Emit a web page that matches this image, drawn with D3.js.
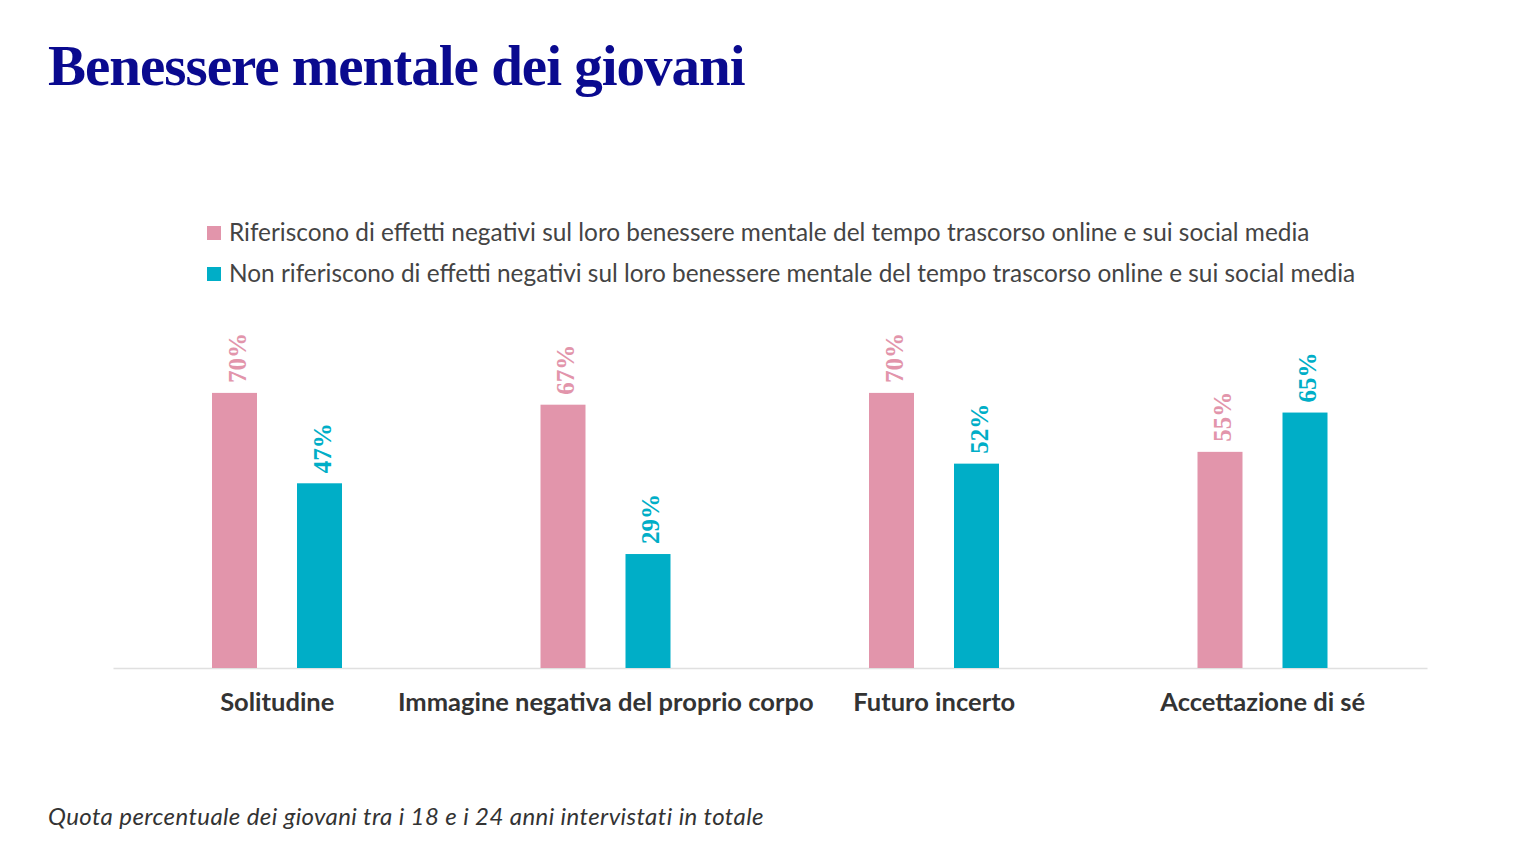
<!DOCTYPE html>
<html><head><meta charset="utf-8">
<script src="https://cdn.jsdelivr.net/npm/d3@7"></script>
<style>
html,body{margin:0;padding:0;background:#fff;}
svg{display:block;}
</style></head>
<body>
<svg id="chart" width="1536" height="864"></svg>
<script>
const categories = ["Solitudine", "Immagine negativa del proprio corpo", "Futuro incerto", "Accettazione di sé"];
const seriesNames = [
  "Riferiscono di effetti negativi sul loro benessere mentale del tempo trascorso online e sui social media",
  "Non riferiscono di effetti negativi sul loro benessere mentale del tempo trascorso online e sui social media"
];
const negativeValues = [70, 67, 70, 55];
const nonNegativeValues = [47, 29, 52, 65];
const colors = ["#e295ab", "#00aec7"];

const svg = d3.select("#chart");
const sans = "'Lato','Source Sans Pro','Open Sans',sans-serif";

svg.append("text").attr("x", 48).attr("y", 85)
  .attr("font-family", "'Liberation Serif',serif").attr("font-weight", 700)
  .attr("font-size", 57).attr("letter-spacing", -1).attr("fill", "#0a0a8f")
  .text("Benessere mentale dei giovani");

// legend
const legend = svg.append("g");
seriesNames.forEach((name, i) => {
  const y = 233 + i * 41;
  legend.append("rect").attr("x", 207).attr("y", y - 7).attr("width", 14).attr("height", 14).attr("fill", colors[i]);
  legend.append("text").attr("x", 229).attr("y", y + 8)
    .attr("font-family", sans).attr("font-size", 24.4).attr("fill", "#444").text(name);
});

const data = categories.map((c, i) => ({cat: c, vals: [negativeValues[i], nonNegativeValues[i]]}));

const x0 = d3.scaleBand().domain(categories).range([113, 1427]).padding(0);
const x1 = d3.scaleBand().domain([0, 1]).range([99, 229]).paddingInner(40 / 85).paddingOuter(0);
const y = d3.scaleLinear().domain([0, 100]).range([668, 275]);

// baseline axis
const xAxis = svg.append("g").attr("transform", `translate(0,${y(0)})`)
  .call(d3.axisBottom(x0).tickSize(0).tickPadding(0));
xAxis.select(".domain").attr("stroke", "#e0e0e0").attr("stroke-width", 1.5);
xAxis.selectAll(".tick text").attr("dy", 0).attr("y", 43)
  .attr("font-family", sans).attr("font-weight", 700).attr("font-size", 25.5).attr("fill", "#333");

const groups = svg.append("g").selectAll("g").data(data).join("g")
  .attr("transform", d => `translate(${x0(d.cat)},0)`);

groups.selectAll("rect").data(d => d.vals.map((v, i) => ({v, i}))).join("rect")
  .attr("x", d => x1(d.i))
  .attr("y", d => y(d.v))
  .attr("width", x1.bandwidth())
  .attr("height", d => y(0) - y(d.v))
  .attr("fill", d => colors[d.i]);

groups.selectAll("text.val").data(d => d.vals.map((v, i) => ({v, i}))).join("text")
  .attr("class", "val")
  .attr("transform", d => `translate(${x1(d.i) + x1.bandwidth() / 2 + 11},${y(d.v) - 10}) rotate(-90)`)
  .attr("font-family", "'Liberation Serif',serif").attr("font-weight", 700)
  .attr("font-size", 25).attr("fill", d => colors[d.i])
  .text(d => d.v + "%");

svg.append("text").attr("x", 48).attr("y", 825)
  .attr("font-family", "'Lato',sans-serif").attr("font-style", "italic")
  .attr("font-size", 24).attr("letter-spacing", 0.4).attr("fill", "#333")
  .text("Quota percentuale dei giovani tra i 18 e i 24 anni intervistati in totale");
</script>
</body></html>
